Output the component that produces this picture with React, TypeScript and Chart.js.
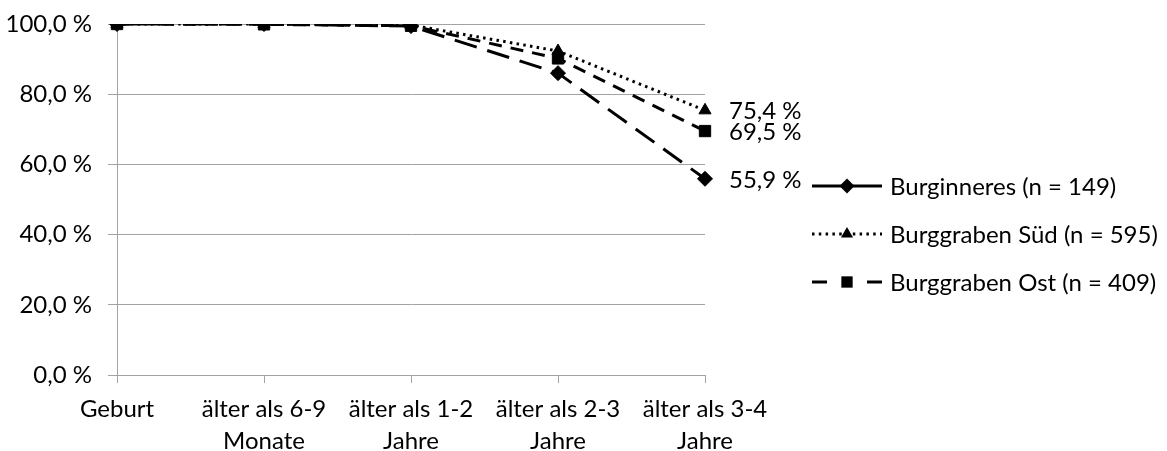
import React, { useEffect, useRef } from "react";
import { Chart, registerables } from "chart.js";

Chart.register(...registerables);

// Age categories on the x axis (multi-line labels)
const categories: (string | string[])[] = [
  "Geburt",
  ["älter als 6-9", "Monate"],
  ["älter als 1-2", "Jahre"],
  ["älter als 2-3", "Jahre"],
  ["älter als 3-4", "Jahre"],
];

// Survival share in percent per area
const burginneres = [100, 100, 99.4, 86.0, 55.9];
const burggrabenSued = [100, 100, 99.7, 92.3, 75.4];
const burggrabenOst = [100, 99.9, 99.5, 90.2, 69.5];

const seriesNames = [
  "Burginneres (n = 149)",
  "Burggraben Süd (n = 595)",
  "Burggraben Ost (n = 409)",
];

const yTickValues = [0, 20, 40, 60, 80, 100];

const FONT = "Lato, 'Open Sans', sans-serif";
const GRID = "#a3a3a3";

const fmtPct = (v: number) => v.toFixed(1).replace(".", ",") + " %";

// Line pattern used for each series in the legend swatch
const legendDashes: number[][] = [[], [2.5, 4.3], [15, 40]];

const endLabelPlugin = {
  id: "endLabels",
  afterDatasetsDraw(chart: any) {
    const ctx = chart.ctx;
    ctx.save();
    ctx.font = `24px ${FONT}`;
    ctx.fillStyle = "#000";
    ctx.textAlign = "left";
    ctx.textBaseline = "middle";
    chart.data.datasets.forEach((ds: any, i: number) => {
      const meta = chart.getDatasetMeta(i);
      const last = meta.data[meta.data.length - 1];
      const v = ds.data[ds.data.length - 1];
      ctx.fillText(fmtPct(v), last.x + 24, last.y + 1);
    });
    ctx.restore();
  },
};

function drawMarker(ctx: CanvasRenderingContext2D, style: string, r: number, x: number, y: number) {
  ctx.beginPath();
  if (style === "rectRot") {
    ctx.moveTo(x - r, y);
    ctx.lineTo(x, y - r);
    ctx.lineTo(x + r, y);
    ctx.lineTo(x, y + r);
  } else if (style === "triangle") {
    const h = r * 1.5;
    const w = r * Math.sqrt(3);
    ctx.moveTo(x, y - r);
    ctx.lineTo(x + w / 2, y - r + h);
    ctx.lineTo(x - w / 2, y - r + h);
  } else {
    const s = r * Math.SQRT1_2;
    ctx.rect(x - s, y - s, 2 * s, 2 * s);
  }
  ctx.closePath();
  ctx.fill();
}

const legendPlugin = {
  id: "sideLegend",
  afterDraw(chart: any) {
    const ctx = chart.ctx;
    const x0 = 812;
    const x1 = 882;
    const rowY = [186, 234, 282];
    ctx.save();
    chart.data.datasets.forEach((ds: any, i: number) => {
      const y = rowY[i];
      ctx.strokeStyle = "#000";
      ctx.lineWidth = 3;
      ctx.setLineDash(legendDashes[i]);
      ctx.lineCap = "butt";
      ctx.beginPath();
      ctx.moveTo(x0, y);
      ctx.lineTo(x1, y);
      ctx.stroke();
      ctx.setLineDash([]);
      ctx.fillStyle = "#000";
      drawMarker(ctx, ds.pointStyle, ds.pointRadius, (x0 + x1) / 2, y);
      ctx.font = `24px ${FONT}`;
      ctx.textAlign = "left";
      ctx.textBaseline = "middle";
      ctx.fillText(ds.label, x1 + 8, y + 1);
    });
    ctx.restore();
  },
};

export default function App() {
  const ref = useRef<HTMLCanvasElement>(null);

  useEffect(() => {
    document.body.style.margin = "0";
    const canvas = ref.current!;
    const chart = new Chart(canvas, {
      type: "line",
      data: {
        labels: categories as any,
        datasets: [
          {
            label: seriesNames[0],
            data: burginneres,
            borderColor: "#000",
            backgroundColor: "#000",
            borderWidth: 3,
            borderDash: [23, 11],
            pointStyle: "rectRot",
            pointRadius: 7.5,
            pointBorderWidth: 1,
          },
          {
            label: seriesNames[1],
            data: burggrabenSued,
            borderColor: "#000",
            backgroundColor: "#000",
            borderWidth: 3,
            borderDash: [2.5, 4.3],
            pointStyle: "triangle",
            pointRadius: 7,
            pointBorderWidth: 1,
          },
          {
            label: seriesNames[2],
            data: burggrabenOst,
            borderColor: "#000",
            backgroundColor: "#000",
            borderWidth: 3,
            borderDash: [13, 9],
            pointStyle: "rect",
            pointRadius: 8,
            pointBorderWidth: 1,
          },
        ] as any,
      },
      options: {
        animation: false,
        responsive: false,
        layout: { autoPadding: false, padding: { top: 24, right: 462, left: 0, bottom: 0 } },
        plugins: {
          legend: { display: false },
          tooltip: { enabled: false },
        },
        elements: { line: { tension: 0 } },
        scales: {
          x: {
            type: "category",
            offset: false,
            grid: {
              drawOnChartArea: false,
              drawTicks: true,
              tickLength: 8,
              color: GRID,
              lineWidth: 1,
            },
            border: { display: true, color: GRID, width: 1 },
            ticks: {
              autoSkip: false,
              maxRotation: 0,
              minRotation: 0,
              padding: 10,
              color: "#000",
              font: { family: FONT, size: 24, lineHeight: 1.35 },
            },
            afterFit(scale: any) {
              scale.height = 76;
              scale.paddingLeft = 0;
              scale.paddingRight = 0;
            },
          },
          y: {
            min: 0,
            max: 100,
            afterBuildTicks(scale: any) {
              scale.ticks = yTickValues.map((v) => ({ value: v }));
            },
            grid: {
              drawTicks: true,
              tickLength: 9,
              color: GRID,
              lineWidth: 1,
            },
            border: { display: true, color: GRID, width: 1 },
            ticks: {
              padding: 16,
              color: "#000",
              font: { family: FONT, size: 24 },
              callback: (v: any) => fmtPct(Number(v)),
            },
            afterFit(scale: any) {
              scale.width = 117;
              scale.paddingTop = 0;
              scale.paddingBottom = 0;
            },
          },
        },
      } as any,
      plugins: [endLabelPlugin, legendPlugin],
    });
    return () => chart.destroy();
  }, []);

  return (
    <canvas
      ref={ref}
      width={1167}
      height={451}
      style={{ display: "block", position: "absolute", left: 0, top: 0, background: "#fff" }}
    />
  );
}
